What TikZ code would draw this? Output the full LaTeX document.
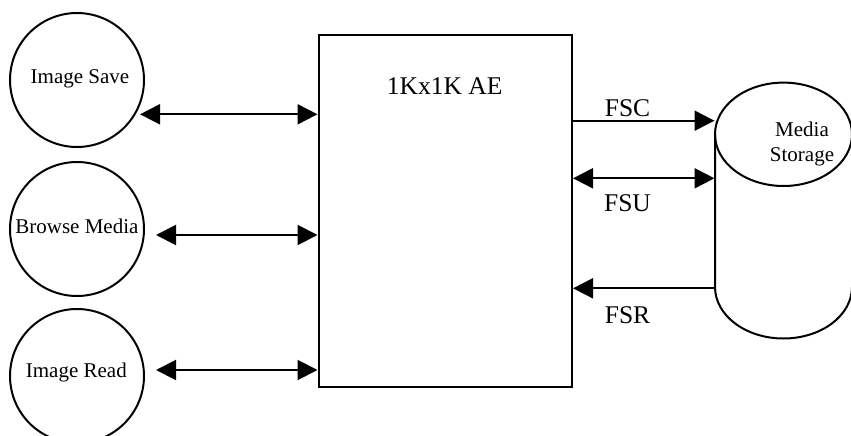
\documentclass[tikz,border=0pt]{standalone}
\usepackage{fontspec}
\setmainfont{Liberation Serif}
\usetikzlibrary{arrows.meta}
\begin{document}
\begin{tikzpicture}[x=1pt,y=-1pt,
  line width=2pt,
  proc/.style={circle, draw, minimum size=134pt, inner sep=0pt},
  smalltext/.style={font=\fontsize{21}{25}\selectfont, inner sep=0pt},
  bigtext/.style={font=\fontsize{25.5}{30}\selectfont, inner sep=0pt},
  conn/.style={line width=2pt, -{Triangle[length=20pt,width=20pt]}},
  biconn/.style={line width=2pt, {Triangle[length=20pt,width=20pt]}-{Triangle[length=20pt,width=20pt]}},
]
\useasboundingbox (0,0) rectangle (851,436);

% central block
\node[draw, minimum width=253.5pt, minimum height=351.7pt, inner sep=0pt, anchor=north west] (ae) at (317.5,34.3) {};
\node[bigtext, anchor=base] (aetitle) at (444.7,95) {1Kx1K AE};

% client circles
\node[proc] (save) at (77,80) {};
\node[proc] (browse) at (77,229) {};
\node[proc] (read) at (77,376) {};
\node[smalltext, anchor=base] (savet) at (80,84) {Image Save};
\node[smalltext, anchor=base] (browset) at (76.9,233.3) {Browse Media};
\node[smalltext, anchor=base] (readt) at (76.3,377.7) {Image Read};

% left connectors
\coordinate (s1) at (140,114.3);
\coordinate (s2) at (156,235);
\coordinate (s3) at (156,370);
\draw[biconn] (s1) -- (s1 -| ae.west);
\draw[biconn] (s2) -- (s2 -| ae.west);
\draw[biconn] (s3) -- (s3 -| ae.west);

% media storage cylinder
\draw (783.5,134.3) ellipse [x radius=68.5pt, y radius=51.7pt];
\draw (715,134.3) -- (715,287) arc[start angle=180, end angle=360, x radius=68.5pt, y radius=51.5pt] -- (852,134.3);
\node[smalltext, align=center] (mst) at (802,144.3) {Media\\Storage};

% right connectors
\coordinate (fsc) at (714.5,120.7);
\coordinate (fsu) at (714.5,178.3);
\coordinate (fsr) at (715,288.3);
\draw[conn] (ae.east |- fsc) -- (fsc);
\draw[biconn] (ae.east |- fsu) -- (fsu);
\draw[conn] (fsr) -- (fsr -| ae.east);
\node[bigtext, anchor=base] (fsct) at (627.5,116) {FSC};
\node[bigtext, anchor=base] (fsut) at (627.5,211.7) {FSU};
\node[bigtext, anchor=base] (fsrt) at (627.5,323.3) {FSR};
\end{tikzpicture}
\end{document}
